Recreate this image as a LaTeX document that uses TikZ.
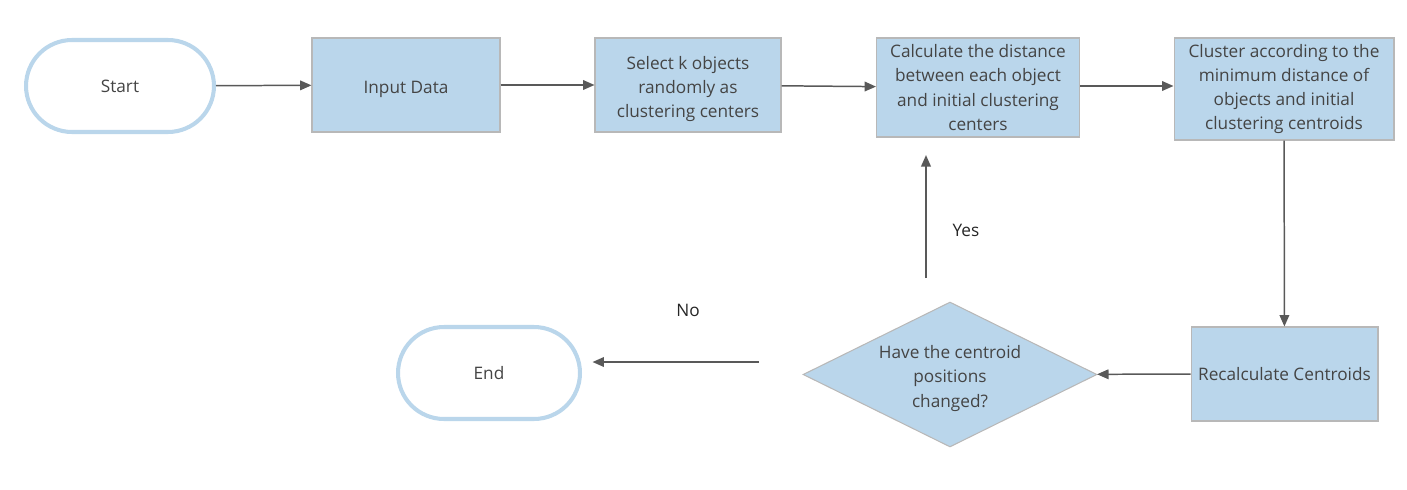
\documentclass[tikz,border=0pt]{standalone}
\usepackage{fontspec}
\setmainfont{Open Sans}
\usetikzlibrary{arrows.meta, shapes.geometric, shapes.misc}

\definecolor{boxblue}{HTML}{BAD6EB}
\definecolor{boxline}{HTML}{B8B8B8}
\definecolor{txtgray}{HTML}{444444}
\definecolor{arrgray}{HTML}{595959}
\newcommand{\lowline}{\rule{0pt}{12pt}}

\begin{document}
\begin{tikzpicture}[x=0.02cm, y=-0.02cm, >={Triangle[length=6.5pt, width=5.5pt]},
    every node/.style={font=\fontsize{9.8}{13.8}\selectfont, text=txtgray},
    terminal/.style={rounded rectangle, draw=boxblue, line width=2.3pt, fill=white,
      minimum width=3.7cm, minimum height=1.84cm, inner sep=0pt},
    process/.style={rectangle, draw=boxline, fill=boxblue, line width=0.6pt,
      align=center, inner sep=0pt},
    decision/.style={diamond, draw=boxline, fill=boxblue, line width=0.6pt,
      align=center, inner sep=0pt, aspect=2},
    arr/.style={->, draw=arrgray, line width=0.85pt},
    answer/.style={text=black!85}]
    \useasboundingbox (0,0) rectangle (1407,490);

    % top row
    \node[terminal, minimum width=3.76cm] (start) at (120,86) {Start};
    \node[process, minimum width=3.76cm, minimum height=1.88cm] (input) at (406,85) {\lowline Input Data};
    \node[process, minimum width=3.72cm, minimum height=1.88cm] (select) at (688,85)
      {\lowline Select k objects\\randomly as\\clustering centers};
    \node[process, minimum width=4.06cm, minimum height=1.98cm] (calc) at (978,87.5)
      {Calculate the distance\\between each object\\and initial clustering\\centers};
    \node[process, minimum width=4.4cm, minimum height=2.04cm] (cluster) at (1284,89)
      {Cluster according to the\\minimum distance of\\objects and initial\\clustering centroids};

    % bottom row
    \node[process, minimum width=3.74cm, minimum height=1.88cm] (recalc) at (1284.5,374)
      {Recalculate Centroids};
    \node[decision, minimum width=5.88cm, minimum height=2.9cm] (changed) at (950,374.5)
      {\lowline Have the centroid\\positions\\changed?};
    \node[terminal, minimum width=3.64cm] (end) at (489,373) {End};

    \draw[arr] (start) -- (input);
    \draw[arr] (input) -- (select);
    \draw[arr] (select) -- (calc);
    \draw[arr] (calc.east |- 0,86) -- (cluster.west |- 0,86);
    \draw[arr] (cluster) -- (recalc);
    \draw[arr] (recalc) -- (changed);

    \coordinate (yesstart) at (926,278);
    \coordinate (nostart) at (759,362);
    \draw[arr, shorten >=10pt] (yesstart) -- (calc.south -| yesstart);
    \draw[arr, shorten >=6pt] (nostart) -- (end.east |- nostart);
    \node[answer] (yes) at (966,230) {Yes};
    \node[answer] (no) at (688,310) {No};
\end{tikzpicture}
\end{document}
